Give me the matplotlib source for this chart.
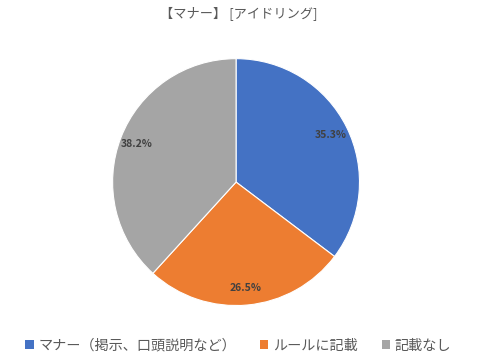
import matplotlib
matplotlib.use("Agg")
import matplotlib.pyplot as plt
from matplotlib.patches import Patch

plt.rcParams['font.family'] = ['Noto Sans CJK JP', 'DejaVu Sans']

title = '【マナー】 [アイドリング]'
labels = ['マナー（掲示、口頭説明など）', 'ルールに記載', '記載なし']
counts = [12, 9, 13]
colors = ['#4472C4', '#ED7D31', '#A5A5A5']

fig = plt.figure(figsize=(4.98, 3.62), dpi=100)
ax = fig.add_axes([0.474 - 0.248, 0.497 - 0.341, 0.496, 0.682])

wedges, texts, autotexts = ax.pie(
    counts, colors=colors, startangle=90, counterclock=False,
    autopct='%1.1f%%', pctdistance=0.86,
    wedgeprops=dict(edgecolor='white', linewidth=0.8),
    textprops=dict(fontsize=7.5, color='#404040', fontweight='bold'))
ax.set_xlim(-1, 1)
ax.set_ylim(-1, 1)
ax.set_aspect('equal')

fig.text(0.48, 0.96, title, ha='center', va='center', fontsize=9.5, color='#595959')

handles = [Patch(facecolor=c, edgecolor='none') for c in colors]
fig.legend(handles, labels, loc='center', bbox_to_anchor=(0.478, 0.045), ncol=3,
           frameon=False, fontsize=10.2, labelcolor='#595959',
           handlelength=0.6, handleheight=0.6, handletextpad=0.3, columnspacing=1.7)

fig.savefig('out.png', dpi=100)
